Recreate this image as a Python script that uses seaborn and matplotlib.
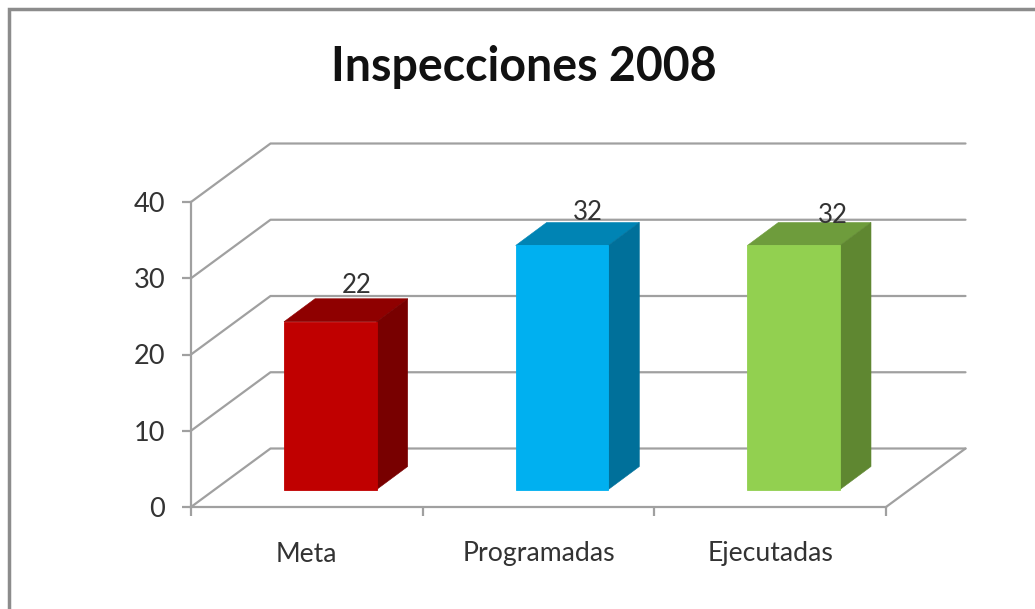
import matplotlib
matplotlib.use("Agg")
import matplotlib.pyplot as plt
import seaborn as sns
from matplotlib.patches import Polygon, Rectangle
from matplotlib.transforms import Affine2D

categories = ["Meta", "Programadas", "Ejecutadas"]
values = [22, 32, 32]
y_ticks = [0, 10, 20, 30, 40]
title = "Inspecciones 2008"
front_colors = ["#c00000", "#00b0f0", "#92d050"]
top_colors = ["#8f0000", "#0084b4", "#6e9c3c"]
side_colors = ["#780000", "#00709a", "#5f8731"]

W, H = 1035, 609
GRID = "#a0a0a0"
TEXT = "#333333"
sns.set_theme(style="white")
plt.rcParams["font.family"] = ["Lato", "DejaVu Sans"]

fig = plt.figure(figsize=(W / 100, H / 100), dpi=100, facecolor="white")
ax = fig.add_axes([191 / W, 1 - 507 / H, 695 / W, 305 / H])
ax.patch.set_alpha(0)

sns.barplot(x=categories, y=values, hue=categories, palette=front_colors,
            width=0.4, legend=False, saturation=1, ax=ax, zorder=3)
ax.set_xlim(-0.5, 2.5)
ax.set_ylim(0, 40)
ax.set_yticks(y_ticks)
ax.set_xticks([-0.5, 0.5, 1.5, 2.5])
ax.set_xticklabels([])
ax.set_xlabel("")
for i, c in enumerate(categories):
    ax.annotate(c, (i, 0), xytext=(0, -47), textcoords="offset pixels",
                ha="center", va="center", fontsize=19.2, color=TEXT, annotation_clip=False)
for s in ("top", "right"):
    ax.spines[s].set_visible(False)
for s in ("left", "bottom"):
    ax.spines[s].set_color(GRID)
    ax.spines[s].set_linewidth(1.6)
ax.tick_params(axis="both", length=6.5, width=1.6, color=GRID, left=True, bottom=True)
ax.tick_params(axis="y", labelsize=19.5, labelcolor=TEXT, pad=12)

# pixels per data unit
sx = 695 / 3
sy = 305 / 40
DX, DY = 79.5 / sx, 58.5 / sy          # depth of the floor
BDX, BDY = 31 / sx, 23 / sy            # depth of a bar
SX, SY = 23.5, 17.5                    # bar set-back from the front plane, px

line_kw = dict(color=GRID, lw=1.6, clip_on=False, zorder=1)
for v in y_ticks:
    ax.plot([-0.5, -0.5 + DX, 2.5 + DX], [v, v + DY, v + DY], **line_kw)
ax.plot([2.5, 2.5 + DX], [0, DY], **line_kw)

offset = ax.transData + Affine2D().translate(SX, SY)
for bar, front_c, top_c, side_c in zip(ax.patches, front_colors, top_colors, side_colors):
    x0, w, h = bar.get_x(), bar.get_width(), bar.get_height()
    bar.set_transform(offset)
    bar.set_clip_on(False)
    bar.set_edgecolor(front_c)
    bar.set_linewidth(0.6)
    x1 = x0 + w
    ax.add_patch(Polygon([(x0, h), (x1, h), (x1 + BDX, h + BDY), (x0 + BDX, h + BDY)],
                         closed=True, fc=top_c, ec=top_c, lw=0.4, transform=offset, clip_on=False, zorder=2.9))
    ax.add_patch(Polygon([(x1, 0), (x1 + BDX, BDY), (x1 + BDX, h + BDY), (x1, h)],
                         closed=True, fc=side_c, ec=side_c, lw=0.4, transform=offset, clip_on=False, zorder=2.9))

label_nudge = [(26, 36), (26, 33), (39, 30)]
for bar, v, (nx, ny) in zip(ax.patches, values, label_nudge):
    xc = bar.get_x() + bar.get_width() / 2
    ax.annotate(str(v), (xc, v), xycoords=offset, xytext=(nx, ny), textcoords="offset pixels",
                ha="center", va="center", fontsize=18.5, color=TEXT, annotation_clip=False, zorder=4)

fig.text(524 / W, 1 - 67 / H, title, ha="center", va="center", fontsize=33.5, fontweight="bold", color="#111111")

fig.add_artist(Rectangle((9 / W, -0.1), 1.2, 1.1 - 9 / H, transform=fig.transFigure,
                         fc="none", ec="#8c8c8c", lw=2.5))

fig.savefig("out.png", dpi=100)
